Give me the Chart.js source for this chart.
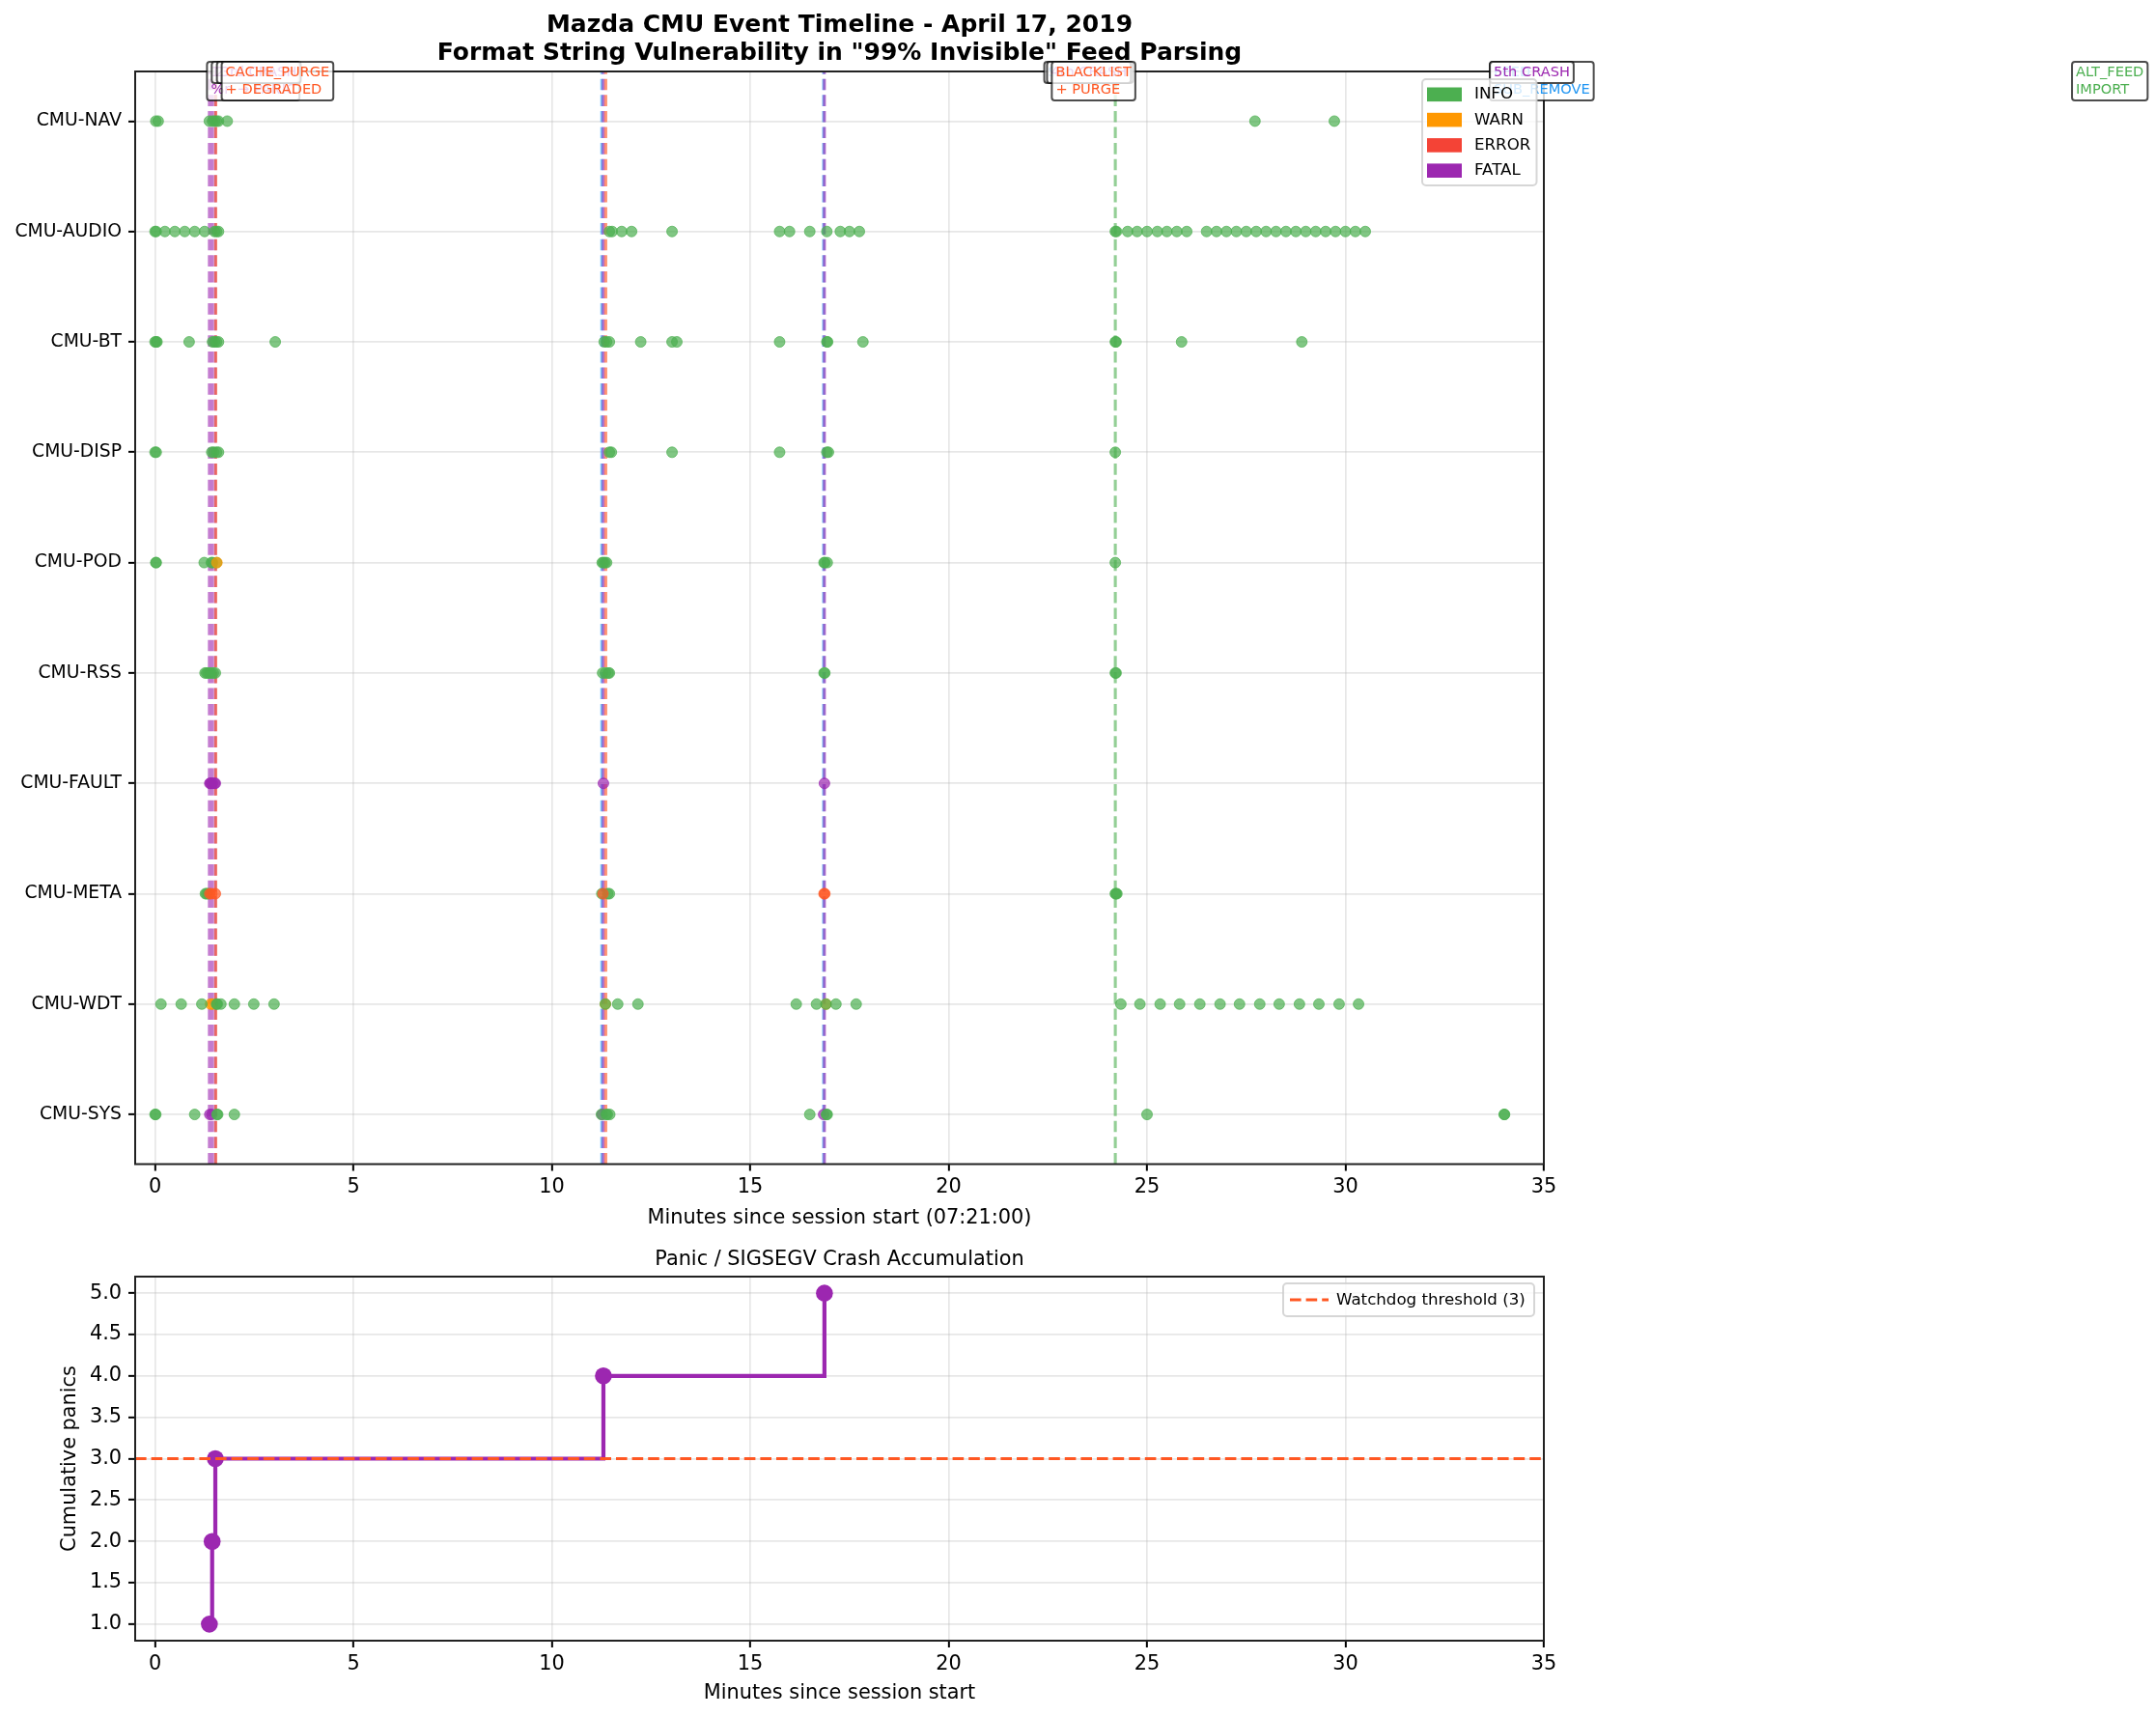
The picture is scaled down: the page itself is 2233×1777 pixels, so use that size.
<!DOCTYPE html>
<html lang="en">
<head>
  <meta charset="UTF-8" />
  <title>Mazda CMU Event Timeline</title>
  <script src="https://cdn.jsdelivr.net/npm/chart.js"></script>
  <style>
    html, body { margin: 0; padding: 0; background: #fff; }
    canvas { display: block; }
  </style>
</head>
<body>
  <canvas id="timeline" width="2233" height="1290"></canvas>
  <canvas id="panics" width="2233" height="487"></canvas>

  <script>
    // rows bottom to top
    const rows = ['CMU-SYS', 'CMU-WDT', 'CMU-META', 'CMU-FAULT', 'CMU-RSS', 'CMU-POD', 'CMU-DISP', 'CMU-BT', 'CMU-AUDIO', 'CMU-NAV'];
    const minuteTicks = [0, 5, 10, 15, 20, 25, 30, 35];
    const panicTicks = [1, 1.5, 2, 2.5, 3, 3.5, 4, 4.5, 5];

    // event times in minutes
    const navInfo = [0.02, 0.08, 1.37, 1.45, 1.5, 1.55, 1.6, 1.82, 27.72, 29.72];
    const audioInfo = [0, 0.03, 0.25, 0.5, 0.75, 1, 1.25, 1.5, 1.55, 1.6, 11.45, 11.52, 11.76, 12.01, 13.03, 15.74, 15.99, 16.5, 16.93, 17.27, 17.5, 17.75,
      24.2, 24.23, 24.51, 24.75, 25, 25.26, 25.5, 25.75, 26, 26.5, 26.75, 27, 27.25, 27.5, 27.75, 28, 28.25, 28.5, 28.75, 29, 29.25, 29.5, 29.75, 30, 30.25, 30.5];
    const btInfo = [0, 0.03, 0.05, 0.86, 1.45, 1.5, 1.55, 1.6, 3.03, 11.32, 11.38, 11.45, 12.24, 13.03, 13.15, 15.74, 16.93, 16.95, 17.84, 24.2, 24.22, 25.87, 28.9];
    const dispInfo = [0, 0.03, 1.43, 1.48, 1.55, 1.6, 11.45, 11.5, 13.03, 15.74, 16.93, 16.97, 24.2];
    const podInfo = [0.02, 0.03, 1.24, 1.42, 1.45, 1.55, 11.27, 11.3, 11.34, 11.38, 16.86, 16.88, 16.94, 24.2];
    const podWarn = [1.56];
    const rssInfo = [1.26, 1.3, 1.34, 1.38, 1.42, 1.47, 1.52, 11.28, 11.35, 11.42, 11.45, 16.86, 16.88, 24.2, 24.22];
    const faultFatal = [1.38, 1.4, 1.42, 1.45, 1.5, 1.52, 11.3, 16.87];
    const metaInfo = [1.27, 1.3, 1.34, 11.26, 11.41, 11.45, 24.2, 24.22, 24.24];
    const metaError = [1.38, 1.43, 1.52, 11.29, 16.86, 16.88];
    const wdtInfo = [0.15, 0.66, 1.18, 1.55, 1.57, 1.66, 2, 2.49, 3, 11.35, 11.66, 12.17, 16.16, 16.67, 16.91, 17.16, 17.67,
      24.34, 24.82, 25.33, 25.82, 26.33, 26.84, 27.33, 27.84, 28.33, 28.84, 29.33, 29.84, 30.33];
    const wdtWarn = [1.4, 1.45, 11.35, 16.91];
    const sysInfo = [0, 0.02, 1, 1.56, 1.58, 2, 11.25, 11.37, 11.4, 11.46, 16.5, 16.92, 16.94, 25, 34, 34.01];
    const sysFatal = [1.38, 1.43, 11.27, 16.85];

    // marker lines on the timeline
    const crashLines = [1.37, 1.44, 1.52, 11.3, 16.87];
    const purgeLines = [1.53, 11.36];
    const removeLines = [11.26, 16.85];
    const importLines = [24.2];

    // label boxes, in paint order; x is where the box starts, in minutes
    const noteTexts = ['1st CRASH\n%n \u2192 PANIC', '2nd CRASH', '3rd CRASH', 'CACHE_PURGE\n+ DEGRADED', 'SUB_RESET', '4th CRASH', 'BLACKLIST\n+ PURGE', 'FEED\nSUB_REMOVE', '5th CRASH', 'ALT_FEED\nIMPORT'];
    const noteX = [1.31, 1.43, 1.56, 1.68, 22.41, 22.48, 22.6, 33.64, 33.64, 48.31];
    const noteKinds = ['crash', 'crash', 'crash', 'purge', 'remove', 'crash', 'purge', 'remove', 'crash', 'import'];

    const panicTimes = [1.37, 1.44, 1.52, 11.3, 16.87];
    const panicCounts = [1, 2, 3, 4, 5];
    const watchdogLimit = 3;

    const levelNames = ['INFO', 'WARN', 'ERROR', 'FATAL'];
    const levelColors = ['#4CAF50', '#FF9800', '#F44336', '#9C27B0'];

    const GREEN = '76,175,80', ORANGE = '255,152,0', DEEP = '255,87,34', PURPLE = '156,39,176', BLUE = '33,150,243';
    const kindColors = { crash: '#9C27B0', purge: '#FF5722', remove: '#2196F3', import: '#4CAF50' };
    const FONT = '"DejaVu Sans", sans-serif';
    const PT10 = 20.83, PT9 = 18.75, PT8 = 16.67, PT7 = 14.58;
    const Y_MIN = -0.45, Y_MAX = 9.45, X_MIN = -0.5, X_MAX = 35;

    Chart.defaults.font.family = FONT;
    Chart.defaults.color = '#000';

    function dots(times, rowName, rgb) {
      const row = rows.indexOf(rowName);
      return {
        data: times.map(t => ({ x: t, y: row })),
        backgroundColor: `rgba(${rgb},0.7)`,
        borderColor: `rgba(${rgb},0.7)`,
        borderWidth: 1,
        pointRadius: 5.5
      };
    }

    function vline(t, rgb) {
      return {
        data: [{ x: t, y: Y_MIN }, { x: t, y: Y_MAX }],
        showLine: true,
        pointRadius: 0,
        borderColor: `rgba(${rgb},0.6)`,
        borderWidth: 3.1,
        borderDash: [11.6, 5]
      };
    }

    function xScale(label, height, titleBottom) {
      return {
        type: 'linear',
        min: X_MIN,
        max: X_MAX,
        afterBuildTicks: s => { s.ticks = minuteTicks.map(v => ({ value: v })); },
        afterFit: s => { s.height = height; },
        ticks: { callback: v => String(v), font: { size: PT10 }, padding: 5, maxRotation: 0 },
        grid: { color: 'rgba(176,176,176,0.3)', lineWidth: 1.7, tickColor: '#000', tickWidth: 2, tickLength: 7 },
        border: { display: false },
        title: { display: true, text: label, font: { size: PT10 }, padding: { top: 0, bottom: titleBottom } }
      };
    }

    function yGrid() {
      return { color: 'rgba(176,176,176,0.3)', lineWidth: 1.7, tickColor: '#000', tickWidth: 2, tickLength: 7 };
    }

    function roundRect(ctx, x, y, w, h, r, fill, stroke, lw) {
      ctx.beginPath();
      ctx.roundRect(x, y, w, h, r);
      ctx.fillStyle = fill;
      ctx.fill();
      ctx.lineWidth = lw;
      ctx.strokeStyle = stroke;
      ctx.stroke();
    }

    function drawSpines(chart) {
      const a = chart.chartArea, ctx = chart.ctx;
      ctx.save();
      ctx.strokeStyle = '#222';
      ctx.lineWidth = 2;
      ctx.strokeRect(a.left, a.top, a.right - a.left, a.bottom - a.top);
      ctx.restore();
    }

    const timelineDecor = {
      id: 'timelineDecor',
      afterDatasetsDraw(chart) {
        const ctx = chart.ctx, a = chart.chartArea;
        drawSpines(chart);
        ctx.save();
        ctx.font = `${PT7}px ${FONT}`;
        ctx.textBaseline = 'middle';
        ctx.textAlign = 'left';
        // label boxes hang over the top spine
        const top = a.top - 10;
        noteTexts.forEach((text, i) => {
          const lines = text.split('\n');
          const left = chart.scales.x.getPixelForValue(noteX[i]);
          const w = Math.max(...lines.map(l => ctx.measureText(l).width)) + 8;
          const h = lines.length * 18 + 4;
          roundRect(ctx, left, top, w, h, 3, 'rgba(255,255,255,0.8)', 'rgba(0,0,0,0.7)', 2);
          ctx.fillStyle = kindColors[noteKinds[i]];
          lines.forEach((l, j) => ctx.fillText(l, left + 4, top + 11 + j * 18));
        });
        // legend on top of everything
        const lx = a.right - 126, ly = a.top + 8;
        roundRect(ctx, lx, ly, 118.5, 110, 4, 'rgba(255,255,255,0.8)', 'rgba(204,204,204,0.8)', 2);
        ctx.font = `${PT8}px ${FONT}`;
        levelNames.forEach((name, i) => {
          const rowY = ly + 8.5 + i * 26.3;
          ctx.fillStyle = levelColors[i];
          ctx.fillRect(lx + 5, rowY, 36, 14.6);
          ctx.fillStyle = '#000';
          ctx.fillText(name, lx + 54, rowY + 7.5);
        });
        ctx.restore();
      }
    };

    const panicDecor = {
      id: 'panicDecor',
      afterDatasetsDraw(chart) {
        const ctx = chart.ctx, a = chart.chartArea;
        drawSpines(chart);
        ctx.save();
        const lx = a.right - 270, ly = a.top + 7;
        roundRect(ctx, lx, ly, 260, 34, 4, 'rgba(255,255,255,0.8)', 'rgba(204,204,204,0.8)', 2);
        ctx.beginPath();
        ctx.setLineDash([11.6, 5]);
        ctx.strokeStyle = '#FF5722';
        ctx.lineWidth = 3.1;
        ctx.moveTo(lx + 7, ly + 17);
        ctx.lineTo(lx + 47, ly + 17);
        ctx.stroke();
        ctx.setLineDash([]);
        ctx.font = `${PT8}px ${FONT}`;
        ctx.fillStyle = '#000';
        ctx.textBaseline = 'middle';
        ctx.fillText('Watchdog threshold (3)', lx + 55, ly + 17.5);
        ctx.restore();
      }
    };

    // first dataset paints last, so dots go ahead of the marker lines
    new Chart(document.getElementById('timeline'), {
      type: 'scatter',
      data: {
        datasets: [
          dots(metaError, 'CMU-META', DEEP),
          dots(podWarn, 'CMU-POD', ORANGE),
          dots(navInfo, 'CMU-NAV', GREEN),
          dots(audioInfo, 'CMU-AUDIO', GREEN),
          dots(btInfo, 'CMU-BT', GREEN),
          dots(dispInfo, 'CMU-DISP', GREEN),
          dots(podInfo, 'CMU-POD', GREEN),
          dots(rssInfo, 'CMU-RSS', GREEN),
          dots(metaInfo, 'CMU-META', GREEN),
          dots(wdtInfo, 'CMU-WDT', GREEN),
          dots(wdtWarn, 'CMU-WDT', ORANGE),
          dots(sysInfo, 'CMU-SYS', GREEN),
          dots(faultFatal, 'CMU-FAULT', PURPLE),
          dots(sysFatal, 'CMU-SYS', PURPLE),
          ...purgeLines.map(t => vline(t, DEEP)),
          ...crashLines.map(t => vline(t, PURPLE)),
          ...removeLines.map(t => vline(t, BLUE)),
          ...importLines.map(t => vline(t, GREEN))
        ]
      },
      options: {
        responsive: false,
        devicePixelRatio: 1,
        animation: false,
        events: [],
        layout: { autoPadding: false, padding: { left: 0, right: 634, top: 0, bottom: 0 } },
        plugins: {
          legend: { display: false },
          tooltip: { enabled: false },
          title: {
            display: true,
            fullSize: false,
            text: ['Mazda CMU Event Timeline - April 17, 2019', 'Format String Vulnerability in "99% Invisible" Feed Parsing'],
            font: { size: 25, weight: 'bold', lineHeight: 1.16 },
            color: '#000',
            padding: { top: 12, bottom: 4 }
          }
        },
        scales: {
          x: xScale('Minutes since session start (07:21:00)', 84.5, 16),
          y: {
            type: 'linear',
            min: Y_MIN,
            max: Y_MAX,
            afterBuildTicks: s => { s.ticks = rows.map((_, i) => ({ value: i })); },
            afterFit: s => { s.width = 140; },
            ticks: { callback: v => rows[v], font: { size: PT9 }, padding: 7 },
            grid: yGrid(),
            border: { display: false }
          }
        }
      },
      plugins: [timelineDecor]
    });

    new Chart(document.getElementById('panics'), {
      type: 'scatter',
      data: {
        datasets: [
          {
            data: [{ x: X_MIN, y: watchdogLimit }, { x: X_MAX, y: watchdogLimit }],
            showLine: true,
            pointRadius: 0,
            borderColor: '#FF5722',
            borderWidth: 3.1,
            borderDash: [11.6, 5]
          },
          {
            data: panicTimes.map((t, i) => ({ x: t, y: panicCounts[i] })),
            showLine: true,
            stepped: 'before',
            borderColor: '#9C27B0',
            borderWidth: 4.2,
            backgroundColor: '#9C27B0',
            pointRadius: 8.8,
            pointBorderWidth: 0
          }
        ]
      },
      options: {
        responsive: false,
        devicePixelRatio: 1,
        animation: false,
        events: [],
        layout: { autoPadding: false, padding: { left: 0, right: 634, top: 0, bottom: 0 } },
        plugins: {
          legend: { display: false },
          tooltip: { enabled: false },
          title: {
            display: true,
            fullSize: false,
            text: 'Panic / SIGSEGV Crash Accumulation',
            font: { size: PT10, weight: 'normal', lineHeight: 1.2 },
            color: '#000',
            padding: { top: 2, bottom: 5 }
          }
        },
        scales: {
          x: xScale('Minutes since session start', 78, 11),
          y: {
            type: 'linear',
            min: 0.8,
            max: 5.2,
            afterBuildTicks: s => { s.ticks = panicTicks.map(v => ({ value: v })); },
            afterFit: s => { s.width = 140; },
            ticks: { callback: v => v.toFixed(1), font: { size: PT10 }, padding: 7 },
            grid: yGrid(),
            border: { display: false },
            title: { display: true, text: 'Cumulative panics', font: { size: PT10 }, padding: { top: 60, bottom: 0 } }
          }
        }
      },
      plugins: [panicDecor]
    });
  </script>
</body>
</html>
